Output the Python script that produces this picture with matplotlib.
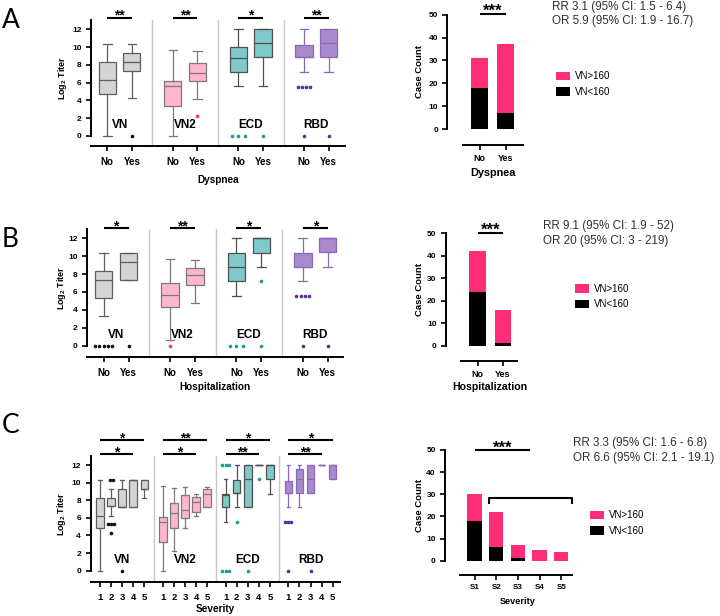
import matplotlib
matplotlib.use('Agg')
import matplotlib.pyplot as plt
import numpy as np

plt.rcParams['font.family'] = ['Liberation Sans', 'DejaVu Sans']
plt.rcParams['mathtext.fontset'] = 'custom'
plt.rcParams['mathtext.rm'] = 'Liberation Sans'
plt.rcParams['mathtext.bf'] = 'Liberation Sans:bold'

# ---------------- data ----------------
groups = ['VN', 'VN2', 'ECD', 'RBD']
yes_no = ['No', 'Yes']
severity = ['1', '2', '3', '4', '5']

# Panel A (Dyspnea) box stats, order: VN No, VN Yes, VN2 No, VN2 Yes, ECD No, ECD Yes, RBD No, RBD Yes
A_lo = [0, 4.27, 0, 4.16, 5.59, 5.59, 7.2, 7.2]
A_q1 = [4.76, 7.31, 3.34, 6.15, 7.24, 8.85, 8.85, 8.85]
A_med = [6.26, 8.32, 5.59, 7.09, 8.74, 10.42, 8.85, 10.42]
A_q3 = [8.29, 9.3, 6.19, 8.21, 9.97, 12, 10.2, 12]
A_hi = [10.35, 10.35, 9.71, 9.6, 12, 12, 12, 12]
A_fliers = [[], [0], [], [2.25], [0, 0, 0], [0], [5.55, 5.55, 5.55, 5.55, 0], [0]]
A_sig = ['**', '**', '*', '**']

# Panel B (Hospitalization)
B_lo = [3.28, 7.3, 0.6, 4.77, 5.59, 8.76, 7.23, 8.76]
B_q1 = [5.29, 7.3, 4.29, 6.75, 7.23, 10.4, 8.76, 10.43]
B_med = [7.3, 9.32, 5.63, 7.86, 8.76, 12, 8.8, 12]
B_q3 = [8.31, 10.32, 6.97, 8.65, 10.4, 12, 10.4, 12]
B_hi = [10.32, 10.32, 9.69, 9.58, 12, 12, 12, 12]
B_fliers = [[0, 0, 0, 0, 0], [0], [0], [], [0, 0, 0], [7.27, 0], [5.59, 5.59, 5.59, 5.59, 0], [0]]
B_sig = ['*', '**', '*', '*']

# Panel C (Severity 1-5 per assay)
C_lo = [0, 6.24, 7.27, 7.27, 8.21, 0, 2.24, 4.81, 6.21, 7.19,
        5.56, 7.19, 7.19, 12, 8.7, 7.19, 7.19, 8.78, 12, 10.37]
C_q1 = [4.88, 7.3, 7.27, 7.27, 9.24, 3.22, 4.81, 5.94, 6.63, 7.19,
        7.19, 8.78, 7.19, 12, 10.37, 8.78, 8.78, 8.78, 12, 10.37]
C_med = [6.24, 7.3, 7.27, 10.3, 9.24, 5.49, 6.51, 6.89, 7.76, 8.67,
         8.55, 8.78, 10.37, 12, 12, 8.78, 10.37, 10.37, 12, 12]
C_q3 = [8.21, 8.21, 9.24, 10.3, 10.3, 6.13, 7.65, 8.59, 8.4, 9.24,
        8.7, 10.3, 12, 12, 12, 10.2, 11.5, 12, 12, 12]
C_hi = [10.3, 9.24, 10.3, 10.3, 10.3, 9.65, 9.42, 9.54, 8.67, 9.46,
        10.37, 12, 12, 12, 12, 12, 12, 12, 12, 12]
C_fliers = [[], [10.3, 10.3, 5.27, 5.27, 5.27, 4.24], [0], [], [],
            [], [], [], [], [],
            [12, 12, 12, 0, 0, 0], [5.56], [0], [10.37], [],
            [5.56, 5.56, 5.56, 0], [], [0], [], []]
C_sig_upper = ['*', '**', '*', '*']   # severity 1 vs 5
C_sig_lower = ['*', '*', '**', '**']  # severity 1 vs 4

# Stacked bars (VN<160 black, VN>160 pink)
A_bar_cats = ['No', 'Yes']
A_low = [18, 7]
A_high = [13, 30]
B_bar_cats = ['No', 'Yes']
B_low = [24, 1]
B_high = [18, 15]
C_bar_cats = ['S1', 'S2', 'S3', 'S4', 'S5']
C_low = [18, 6, 1, 0, 0]
C_high = [12, 16, 6, 5, 4]

A_text = ['RR 3.1 (95% CI: 1.5 - 6.4)', 'OR 5.9 (95% CI: 1.9 - 16.7)']
B_text = ['RR 9.1 (95% CI: 1.9 - 52)', 'OR 20 (95% CI: 3 - 219)']
C_text = ['RR 3.3 (95% CI: 1.6 - 6.8)', 'OR 6.6 (95% CI: 2.1 - 19.1)']
legend_labels = ['VN>160', 'VN<160']

# ---------------- style ----------------
face = {'VN': '#d4d4d4', 'VN2': '#ffb6d0', 'ECD': '#7ecaca', 'RBD': '#a98acc'}
edge = {'VN': '#5e5e5e', 'VN2': '#7a7a7a', 'ECD': '#505050', 'RBD': '#8a66bd'}
fcol = {'VN': '#111111', 'VN2': '#ff2e7a', 'ECD': '#1a9c9c', 'RBD': '#5b2a9b'}
PINK = '#ff2d78'
SEP = '#c8c8c8'
RR_FS = 8.4

W, H = 720, 616
fig = plt.figure(figsize=(W / 100, H / 100), dpi=100)


def place(pl, pr, pt, pb, xmap, ymap):
    xa, pxa, xb, pxb = xmap
    sx = (pxb - pxa) / (xb - xa)
    ya, pya, yb, pyb = ymap
    sy = (pya - pyb) / (yb - ya)
    ax = fig.add_axes([pl / W, 1 - pb / H, (pr - pl) / W, (pb - pt) / H])
    ax.set_xlim(xa + (pl - pxa) / sx, xa + (pr - pxa) / sx)
    ax.set_ylim(ya - (pb - pya) / sy, ya + (pya - pt) / sy)
    for s in ['top', 'right']:
        ax.spines[s].set_visible(False)
    for s in ['left', 'bottom']:
        ax.spines[s].set_linewidth(1.4)
    ax.patch.set_alpha(0)
    return ax, (lambda p: xa + (p - pxa) / sx)


def ftext(px, py, s, **kw):
    fig.text(px / W, 1 - py / H, s, **kw)


def box_panel(ax, lo, q1, med, q3, hi, fliers, ncat, gs, width, fsp, catlabels, sepbottom):
    pos = [g * gs + c for g in range(len(groups)) for c in range(ncat)]
    stats = [dict(whislo=lo[i], q1=q1[i], med=med[i], q3=q3[i], whishi=hi[i], fliers=[])
             for i in range(len(pos))]
    art = ax.bxp(stats, positions=pos, widths=width, patch_artist=True, showfliers=False,
                 capwidths=width * 0.5, manage_ticks=False)
    for i in range(len(pos)):
        g = groups[i // ncat]
        art['boxes'][i].set(facecolor=face[g], edgecolor=edge[g], linewidth=0.9)
        art['medians'][i].set(color=edge[g], linewidth=0.9)
        for k in (2 * i, 2 * i + 1):
            art['whiskers'][k].set(color=edge[g], linewidth=0.9)
            art['caps'][k].set(color=edge[g], linewidth=0.9)
        vals, counts = np.unique(fliers[i], return_counts=True)
        for v, n in zip(vals, counts):
            sp = fsp if (n > 3 or ncat == 5) else fsp * 1.6
            offs = (np.arange(n) - (n - 1) / 2) * sp
            ax.plot(pos[i] + offs, np.full(n, v), 'o', ms=2.6, mec='none', color=fcol[g],
                    clip_on=False, zorder=4)
    # separators
    for g in range(1, len(groups)):
        xs = ((g - 1) * gs + ncat - 1 + g * gs) / 2
        ax.plot([xs, xs], [sepbottom, 13], color=SEP, lw=1.0, zorder=0, clip_on=False)
    # group labels
    for g, name in enumerate(groups):
        ax.text(g * gs + (ncat - 1) / 2, 1.2, name, ha='center', va='center',
                fontsize=8.5, fontweight='bold')
    ax.set_xticks(pos)
    ax.set_xticklabels(catlabels * len(groups))
    ax.set_yticks(range(0, 13, 2))
    ax.spines['left'].set_bounds(0, 13)
    ax.tick_params(axis='both', direction='out', length=3.6, width=1.2, pad=3.3)
    ax.tick_params(axis='x', labelsize=7 if ncat == 2 else 6.8, pad=4.2)
    ax.tick_params(axis='y', labelsize=6)
    for lab in ax.get_xticklabels() + ax.get_yticklabels():
        lab.set_fontweight('bold')
    return pos


def sig(ax, x1, x2, y, s, fs, lw=1.5):
    ax.plot([x1, x2], [y, y], color='k', lw=lw, clip_on=False, solid_capstyle='butt')
    ax.annotate(s, xy=((x1 + x2) / 2, y), xytext=(0, -1.5), textcoords='offset points',
                ha='center', va='baseline', fontsize=fs, fontweight='bold', annotation_clip=False)


def bar_panel(ax, cats, low, high, width, spine_left):
    x = np.arange(len(cats))
    b1 = ax.bar(x, low, width, color='black', zorder=2)
    b2 = ax.bar(x, high, width, bottom=low, color=PINK, zorder=2)
    ax.set_xticks(x)
    ax.set_xticklabels(cats)
    ax.set_yticks(range(0, 51, 10))
    ax.spines['left'].set_bounds(0, 50)
    ax.spines['bottom'].set_bounds(spine_left, ax.get_xlim()[1])
    ax.tick_params(axis='both', direction='out', length=3.6, width=1.2, pad=3.0)
    ax.tick_params(axis='x', labelsize=6.5 if len(cats) == 2 else 5.8, pad=3.0)
    ax.tick_params(axis='y', labelsize=6)
    for lab in ax.get_xticklabels() + ax.get_yticklabels():
        lab.set_fontweight('bold')
    return b2, b1


def legend(ax, handles, px, py):
    ax.legend(handles=handles, labels=legend_labels, loc='center left',
              bbox_to_anchor=(px / W, 1 - py / H), bbox_transform=fig.transFigure,
              frameon=False, fontsize=7, handlelength=1.45, handleheight=0.95,
              handletextpad=0.5, labelspacing=0.55, borderpad=0, borderaxespad=0)


ylab_box = r'Log$_{\mathbf{2}}$ Titer'
GS_AB = 2.67
GS_C = 5.67

# ---------------- Panel A ----------------
axA, _ = place(91.3, 345, 3, 146, (0, 107.3, 3 * GS_AB + 1, 328.6), (0, 136, 12, 29.3))
box_panel(axA, A_lo, A_q1, A_med, A_q3, A_hi, A_fliers, 2, GS_AB, 0.7, 0.17, yes_no,
          axA.get_ylim()[0])
for g in range(4):
    sig(axA, g * GS_AB, g * GS_AB + 1, 13.3, A_sig[g], 10)
ftext(218, 180, 'Dyspnea', ha='center', va='center', fontsize=7.2, fontweight='bold')
ftext(63, 78, ylab_box, ha='center', va='center', rotation=90, fontsize=6.5, fontweight='bold')

axAr, pxA = place(447.3, 523.3, 2, 145, (0, 479.7, 1, 505.8), (0, 129, 50, 14.7))
hA = bar_panel(axAr, A_bar_cats, A_low, A_high, 0.66, pxA(463))
sig(axAr, 0, 1, 50.3, '***', 12)
legend(axAr, list(hA), 556, 84)
ftext(493, 173, 'Dyspnea', ha='center', va='center', fontsize=7.8, fontweight='bold')
ftext(419, 71.8, 'Case Count', ha='center', va='center', rotation=90, fontsize=6.8, fontweight='bold')
ftext(552, 7, A_text[0], ha='left', va='center', fontsize=RR_FS, color='#303030')
ftext(552, 21, A_text[1], ha='left', va='center', fontsize=RR_FS, color='#303030')

# ---------------- Panel B ----------------
axB, _ = place(87.3, 343.3, 215, 356.7, (0, 103.7, 3 * GS_AB + 1, 327.7), (0, 345.7, 12, 238.3))
box_panel(axB, B_lo, B_q1, B_med, B_q3, B_hi, B_fliers, 2, GS_AB, 0.7, 0.17, yes_no,
          axB.get_ylim()[0])
for g in range(4):
    sig(axB, g * GS_AB, g * GS_AB + 1, 13.1, B_sig[g], 10)
ftext(215, 386.7, 'Hospitalization', ha='center', va='center', fontsize=7.2, fontweight='bold')
ftext(61, 287.6, ylab_box, ha='center', va='center', rotation=90, fontsize=6.5, fontweight='bold')

axBr, pxB = place(445.7, 516.7, 215, 360.7, (0, 477.7, 1, 503), (0, 345.7, 50, 233.3))
hB = bar_panel(axBr, B_bar_cats, B_low, B_high, 0.66, pxB(461))
sig(axBr, 0, 1, 50.3, '***', 12)
legend(axBr, list(hB), 575, 296.5)
ftext(490, 386.7, 'Hospitalization', ha='center', va='center', fontsize=7.6, fontweight='bold')
ftext(419, 289.5, 'Case Count', ha='center', va='center', rotation=90, fontsize=6.8, fontweight='bold')
ftext(543, 226, B_text[0], ha='left', va='center', fontsize=RR_FS, color='#303030')
ftext(543, 240.7, B_text[1], ha='left', va='center', fontsize=RR_FS, color='#303030')

# ---------------- Panel C ----------------
axC, _ = place(90.7, 340, 420, 581.7, (0, 100, 3 * GS_C + 4, 332.7), (0, 570.7, 12, 465))
box_panel(axC, C_lo, C_q1, C_med, C_q3, C_hi, C_fliers, 5, GS_C, 0.68, 0.28, severity,
          axC.get_ylim()[0])
for g in range(4):
    sig(axC, g * GS_C, g * GS_C + 4, 14.8, C_sig_upper[g], 10)
    sig(axC, g * GS_C, g * GS_C + 3, 13.2, C_sig_lower[g], 10)
ftext(215, 609, 'Severity', ha='center', va='center', fontsize=7.2, fontweight='bold')
ftext(61, 513.5, ylab_box, ha='center', va='center', rotation=90, fontsize=6.5, fontweight='bold')

axCr, pxC = place(445, 571.7, 430, 575, (0, 474.5, 4, 561.3), (0, 560.7, 50, 450))
hC = bar_panel(axCr, C_bar_cats, C_low, C_high, 0.66, pxC(460))
sig(axCr, 0, 2.57, 49.8, '***', 12)
bx0, bx1 = 1 - 0.33, 4 + 0.49
axCr.plot([bx0, bx0, bx1, bx1], [25.9, 28.5, 28.5, 25.9], color='k', lw=1.5, clip_on=False)
legend(axCr, list(hC), 590, 523)
ftext(518, 601.7, 'Severity', ha='center', va='center', fontsize=6.6, fontweight='bold')
ftext(419, 505.4, 'Case Count', ha='center', va='center', rotation=90, fontsize=6.8, fontweight='bold')
ftext(573.3, 443.3, C_text[0], ha='left', va='center', fontsize=RR_FS, color='#303030')
ftext(573.3, 458.3, C_text[1], ha='left', va='center', fontsize=RR_FS, color='#303030')

# ---------------- panel letters ----------------
for L, by in zip(['A', 'B', 'C'], [28.3, 247, 433]):
    ftext(2, by, L, ha='left', va='baseline', fontsize=19, family=['Lato', 'DejaVu Sans'])

fig.savefig('out.png', dpi=100)
